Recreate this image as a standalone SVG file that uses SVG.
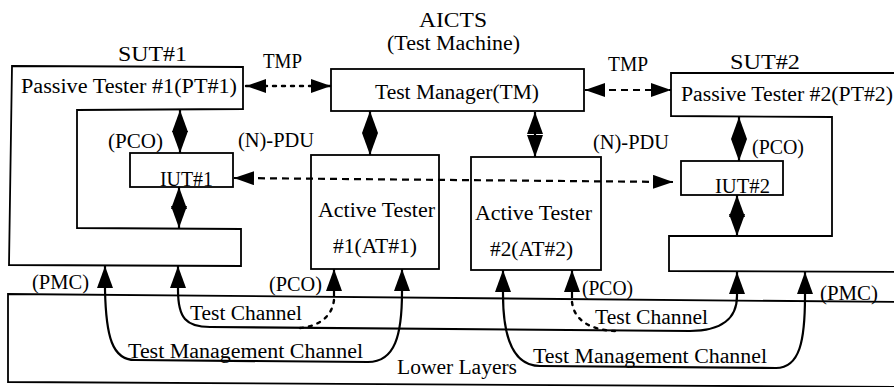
<svg xmlns="http://www.w3.org/2000/svg" width="894" height="387" viewBox="0 0 894 387">
  <style>
    .box { fill: none; stroke: #000; stroke-width: 1.8; stroke-linejoin: miter; }
    .lbl { font-family: "Liberation Serif", "Times New Roman", serif; font-size: 20px; fill: #000; }
    .solid { fill: none; stroke: #000; stroke-width: 2.2; }
    .dash { fill: none; stroke: #000; stroke-width: 2.2; stroke-dasharray: 7 5; }
    .dot { fill: none; stroke: #000; stroke-width: 2.4; stroke-dasharray: 3 6; stroke-linecap: round; }
  </style>
  <defs>
    <marker id="ah" viewBox="0 0 20 14" markerWidth="20" markerHeight="14" refX="20" refY="7" orient="auto-start-reverse" markerUnits="userSpaceOnUse">
      <path d="M0,0 L20,7 L0,14 Z" fill="#000"/>
    </marker>
    <marker id="ad" viewBox="0 0 22 16" markerWidth="22" markerHeight="16" refX="22" refY="8" orient="auto-start-reverse" markerUnits="userSpaceOnUse">
      <path d="M0,0 L22,8 L0,16 Z" fill="#000"/>
    </marker>
    <marker id="ahb" viewBox="0 0 22 16" markerWidth="22" markerHeight="16" refX="22" refY="8" orient="auto-start-reverse" markerUnits="userSpaceOnUse">
      <path d="M0,0 L22,8 L0,16 Z" fill="#000"/>
    </marker>
  </defs>
  <rect width="894" height="387" fill="#fff"/>

  <!-- test machine -->
  <g id="aicts">
    <text class="lbl" x="419" y="27" font-size="22" textLength="68" lengthAdjust="spacingAndGlyphs">AICTS</text>
    <text class="lbl" x="387" y="50" font-size="19" textLength="133" lengthAdjust="spacingAndGlyphs">(Test Machine)</text>
  </g>
  <g id="tm">
    <rect class="box" x="331" y="69" width="253" height="42"/>
    <text class="lbl" x="375" y="99" textLength="164" lengthAdjust="spacingAndGlyphs">Test Manager(TM)</text>
  </g>
  <g id="at1">
    <rect class="box" x="311" y="155" width="128" height="114"/>
    <text class="lbl" x="318" y="217" textLength="117" lengthAdjust="spacingAndGlyphs">Active Tester</text>
    <text class="lbl" x="333" y="253" textLength="84" lengthAdjust="spacingAndGlyphs">#1(AT#1)</text>
  </g>
  <g id="at2">
    <rect class="box" x="471" y="157" width="130" height="113"/>
    <text class="lbl" x="475" y="220" textLength="117" lengthAdjust="spacingAndGlyphs">Active Tester</text>
    <text class="lbl" x="490" y="256" textLength="83" lengthAdjust="spacingAndGlyphs">#2(AT#2)</text>
  </g>

  <!-- system under test 1 -->
  <g id="sut1">
    <text class="lbl" x="118" y="61" textLength="69" lengthAdjust="spacingAndGlyphs">SUT#1</text>
    <path class="box" d="M12,66 L243,67 L243,109 L77,110 L77,228 L241,229 L241,266 L9,265 Z"/>
    <text class="lbl" x="21" y="93" textLength="216" lengthAdjust="spacingAndGlyphs">Passive Tester #1(PT#1)</text>
  </g>
  <g id="iut1">
    <rect class="box" x="130" y="153" width="103" height="34"/>
    <text class="lbl" x="160" y="186" textLength="53" lengthAdjust="spacingAndGlyphs">IUT#1</text>
  </g>

  <!-- system under test 2 -->
  <g id="sut2">
    <text class="lbl" x="730" y="69" textLength="70" lengthAdjust="spacingAndGlyphs">SUT#2</text>
    <path class="box" d="M900,73 L671,73 L671,116 L832,117 L832,236 L669,236 L669,271 L900,272"/>
    <text class="lbl" x="681" y="101" textLength="212" lengthAdjust="spacingAndGlyphs">Passive Tester #2(PT#2)</text>
  </g>
  <g id="iut2">
    <rect class="box" x="681" y="161" width="102" height="34"/>
    <text class="lbl" x="715" y="193" textLength="55" lengthAdjust="spacingAndGlyphs">IUT#2</text>
  </g>

  <!-- lower layers -->
  <g id="lower-layers">
    <path class="box" d="M900,302 L8,294 L8,382 L900,387"/>
    <text class="lbl" x="397" y="374" textLength="120" lengthAdjust="spacingAndGlyphs">Lower Layers</text>
  </g>

  <!-- connectors -->
  <g id="connectors">
    <!-- TMP links -->
    <line class="dot" x1="246" y1="86" x2="331" y2="86" marker-start="url(#ah)" marker-end="url(#ah)"/>
    <line class="dash" x1="585" y1="90" x2="671" y2="90" marker-start="url(#ah)" marker-end="url(#ah)"/>
    <!-- (N)-PDU exchange -->
    <line class="dash" x1="234" y1="178" x2="673" y2="182" marker-start="url(#ah)" marker-end="url(#ah)"/>
    <!-- vertical PCO links -->
    <line class="solid" x1="180" y1="110" x2="180" y2="153" marker-start="url(#ad)" marker-end="url(#ad)"/>
    <line class="solid" x1="179" y1="187" x2="179" y2="228" marker-start="url(#ad)" marker-end="url(#ad)"/>
    <line class="solid" x1="370" y1="111" x2="370" y2="155" marker-start="url(#ad)" marker-end="url(#ad)"/>
    <line class="solid" x1="535" y1="112" x2="535" y2="157" marker-start="url(#ad)" marker-end="url(#ad)"/>
    <line class="solid" x1="739" y1="117" x2="739" y2="161" marker-start="url(#ad)" marker-end="url(#ad)"/>
    <line class="solid" x1="737" y1="195" x2="737" y2="236" marker-start="url(#ad)" marker-end="url(#ad)"/>
    <!-- test channel -->
    <path class="solid" d="M178,266 V290 C178,318 186,327 210,327 L690,331 C722,331 737,318 737,296 V272" marker-start="url(#ahb)" marker-end="url(#ahb)"/>
    <path class="solid" d="M334,269 V297" marker-start="url(#ahb)"/>
    <path class="dot" d="M334,300 C332,316 320,326 300,328"/>
    <path class="solid" d="M572,270 V298" marker-start="url(#ahb)"/>
    <path class="dot" d="M572,302 C574,320 590,330 615,331"/>
    <!-- test management channels -->
    <path class="solid" d="M105,266 V290 C106,336 112,360 135,360 L368,362 C395,362 402,335 402,292 V269" marker-start="url(#ahb)" marker-end="url(#ahb)"/>
    <path class="solid" d="M503,270 V294 C503,340 514,366 540,366 L776,368 C800,368 805,340 805,296 V272" marker-start="url(#ahb)" marker-end="url(#ahb)"/>
  </g>

  <!-- link labels -->
  <g id="labels">
    <text class="lbl" x="263" y="68" font-size="18" textLength="39" lengthAdjust="spacingAndGlyphs">TMP</text>
    <text class="lbl" x="608" y="71" font-size="18" textLength="40" lengthAdjust="spacingAndGlyphs">TMP</text>
    <text class="lbl" x="108" y="148" textLength="55" lengthAdjust="spacingAndGlyphs">(PCO)</text>
    <text class="lbl" x="238" y="147" textLength="76" lengthAdjust="spacingAndGlyphs">(N)-PDU</text>
    <text class="lbl" x="593" y="149" textLength="76" lengthAdjust="spacingAndGlyphs">(N)-PDU</text>
    <text class="lbl" x="752" y="154" textLength="52" lengthAdjust="spacingAndGlyphs">(PCO)</text>
    <text class="lbl" x="32" y="289" textLength="57" lengthAdjust="spacingAndGlyphs">(PMC)</text>
    <text class="lbl" x="269" y="291" textLength="53" lengthAdjust="spacingAndGlyphs">(PCO)</text>
    <text class="lbl" x="582" y="295" textLength="51" lengthAdjust="spacingAndGlyphs">(PCO)</text>
    <text class="lbl" x="820" y="300" textLength="58" lengthAdjust="spacingAndGlyphs">(PMC)</text>
    <text class="lbl" x="190" y="320" textLength="112" lengthAdjust="spacingAndGlyphs">Test Channel</text>
    <text class="lbl" x="595" y="324" textLength="113" lengthAdjust="spacingAndGlyphs">Test Channel</text>
    <text class="lbl" x="128" y="358" textLength="235" lengthAdjust="spacingAndGlyphs">Test Management Channel</text>
    <text class="lbl" x="533" y="363" textLength="234" lengthAdjust="spacingAndGlyphs">Test Management Channel</text>
  </g>
</svg>
